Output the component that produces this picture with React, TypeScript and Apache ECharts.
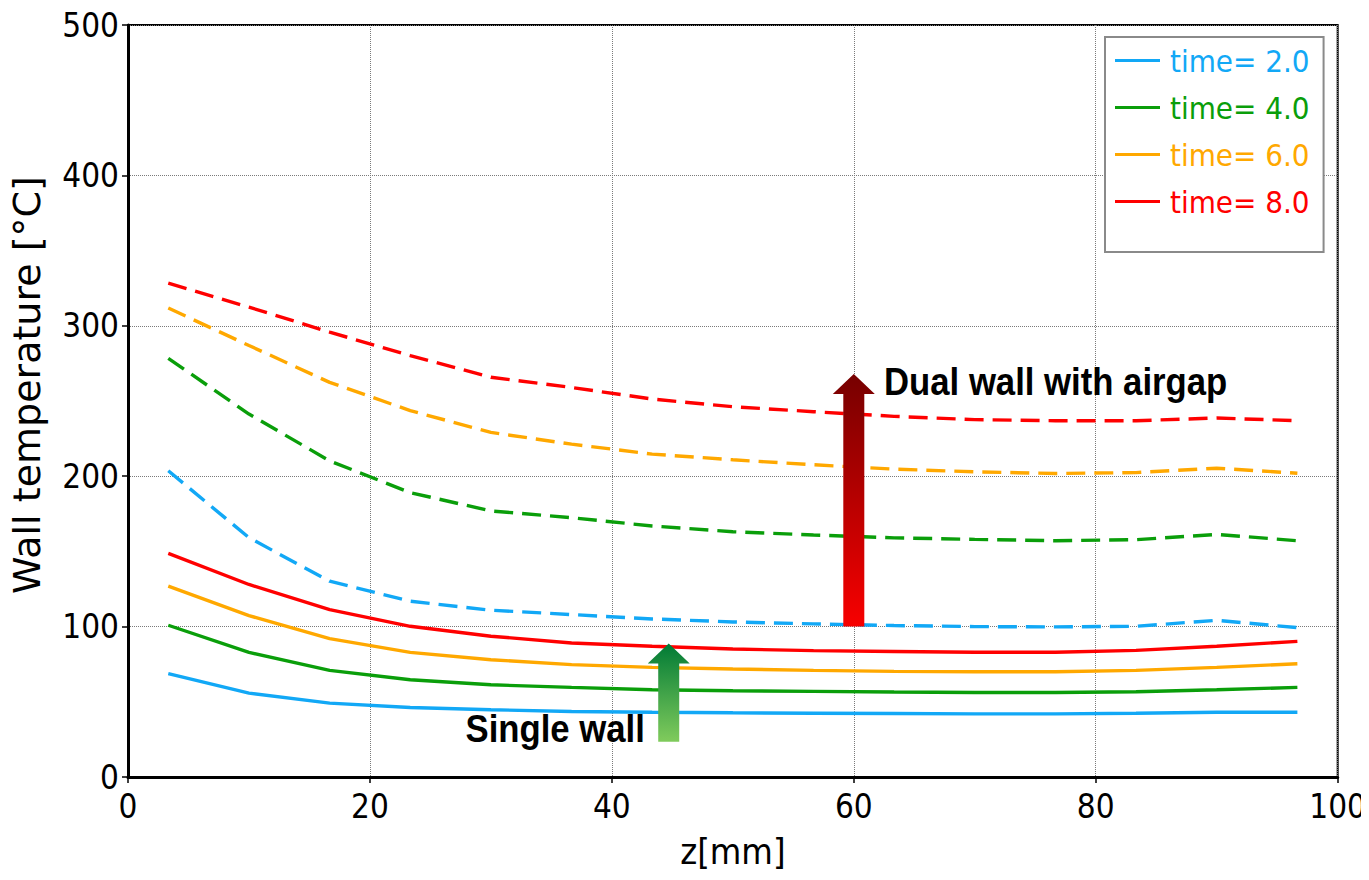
import React, { useEffect, useRef } from "react";
import * as echarts from "echarts";

// z positions [mm]
const zPositions = [3.33, 10, 16.67, 23.33, 30, 36.67, 43.33, 50, 56.67, 63.33, 70, 76.67, 83.33, 90, 96.67];

// Single wall (solid)
const single2 = [68.7, 55.8, 49.1, 46.2, 44.7, 43.6, 43.1, 42.7, 42.4, 42.2, 42, 42, 42.4, 43.1, 43.1];
const single4 = [100.9, 82.9, 70.9, 64.7, 61.3, 59.6, 58, 57.3, 56.9, 56.5, 56.2, 56.2, 56.7, 58, 59.6];
const single6 = [126.9, 107.3, 92, 82.9, 78, 74.7, 72.9, 71.8, 70.9, 70.2, 70, 70, 70.9, 72.9, 75.3];
const single8 = [148.7, 128, 111.3, 100.2, 93.6, 89.1, 86.9, 85.1, 84, 83.4, 82.9, 82.9, 84.2, 86.9, 90.2];

// Dual wall with airgap (dashed)
const dual2 = [203.6, 159.1, 130.2, 116.9, 110.9, 108, 105.1, 103.1, 101.8, 100.7, 100, 99.8, 100.2, 104.2, 99.3];
const dual4 = [278.4, 241.3, 210.2, 189.1, 176.9, 172.4, 166.9, 163.1, 160.9, 159, 158, 157.1, 157.8, 161.3, 157.1];
const dual6 = [311.8, 286.9, 262.4, 243.6, 229.1, 221.3, 214.7, 210.9, 207.6, 204.7, 202.9, 201.8, 202.4, 205.3, 202];
const dual8 = [328.4, 312.4, 295.8, 280.2, 265.8, 259, 251.3, 246.2, 242.9, 239.8, 237.6, 236.9, 236.9, 238.7, 236.9];

const legendNames = ["time= 2.0", "time= 4.0", "time= 6.0", "time= 8.0"];
const seriesColors = ["#12a8f6", "#0a9e0a", "#ffa800", "#ff0000"];

const xTicks = { min: 0, max: 100, interval: 20 };
const yTicks = { min: 0, max: 500, interval: 100 };

// Annotation arrows in data coordinates: [z, temperature]
const dualArrowFrom = [60, 100];
const dualArrowTo = [60, 268];
const singleArrowFrom = [44.7, 23.5];
const singleArrowTo = [44.7, 88.7];
const dualLabelAt = [62.5, 263];
const singleLabelAt = [27.9, 24];

const FONT = "'DejaVu Sans Condensed', 'DejaVu Sans', sans-serif";
const FONT_WIDE = "'DejaVu Sans', sans-serif";
const BOLD = "'Liberation Sans', Arial, sans-serif";

function pair(ys: number[]) {
  return zPositions.map((z, i) => [z, ys[i]]);
}

export default function App() {
  const ref = useRef<HTMLDivElement>(null);

  useEffect(() => {
    if (!ref.current) return;
    const chart = echarts.init(ref.current, null, { renderer: "svg" });

    const solid = [single2, single4, single6, single8];
    const dashed = [dual2, dual4, dual6, dual8];

    const series: any[] = [];
    solid.forEach((d, i) => {
      series.push({
        name: legendNames[i],
        type: "line",
        data: pair(d),
        symbol: "none",
        lineStyle: { color: seriesColors[i], width: 3.4 },
        itemStyle: { color: seriesColors[i] },
        z: 3,
      });
    });
    dashed.forEach((d, i) => {
      series.push({
        name: legendNames[i] + " (dual wall)",
        type: "line",
        data: pair(d),
        symbol: "none",
        lineStyle: { color: seriesColors[i], width: 3.4, type: [19, 9] },
        itemStyle: { color: seriesColors[i] },
        z: 3,
      });
    });

    chart.setOption({
      animation: false,
      backgroundColor: "#fff",
      grid: {
        left: 125,
        right: 31,
        top: 25,
        bottom: 103,
        show: true,
        borderColor: "#000",
        borderWidth: 2,
      },
      legend: {
        orient: "vertical",
        left: 1105,
        top: 37,
        padding: [8, 14, 35, 10],
        itemGap: 16,
        itemWidth: 45,
        itemHeight: 3,
        icon: "rect",
        borderColor: "#8a8a8a",
        borderWidth: 2,
        backgroundColor: "#fff",
        data: legendNames.map((n, i) => ({
          name: n,
          textStyle: { color: seriesColors[i] },
        })),
        textStyle: { fontFamily: FONT, fontSize: 31, lineHeight: 30, padding: [0, 0, 0, 5] },
        selectedMode: false,
      },
      xAxis: {
        type: "value",
        min: xTicks.min,
        max: xTicks.max,
        interval: xTicks.interval,
        name: "z[mm]",
        nameLocation: "middle",
        nameGap: 56,
        nameTextStyle: { fontFamily: FONT, fontSize: 36, color: "#000" },
        axisLine: { show: true, onZero: false, lineStyle: { color: "#000", width: 3 } },
        axisTick: { show: true, length: 6, lineStyle: { color: "#000", width: 1.5 } },
        axisLabel: { fontFamily: FONT, fontSize: 33, color: "#000", margin: 13 },
        splitLine: { show: true, lineStyle: { color: "#7a7a7a", width: 1, type: "dotted" } },
      },
      yAxis: {
        type: "value",
        min: yTicks.min,
        max: yTicks.max,
        interval: yTicks.interval,
        name: "Wall temperature [°C]",
        nameLocation: "middle",
        nameGap: 82,
        nameTextStyle: { fontFamily: FONT_WIDE, fontSize: 38, color: "#000", padding: [0, 0, 0, 32] },
        axisLine: { show: true, onZero: false, lineStyle: { color: "#000", width: 3 } },
        axisTick: { show: true, length: 6, lineStyle: { color: "#000", width: 1.5 } },
        axisLabel: { fontFamily: FONT, fontSize: 33, color: "#000", margin: 9 },
        splitLine: { show: true, lineStyle: { color: "#7a7a7a", width: 1, type: "dotted" } },
      },
      series,
    });

    const px = (p: number[]) => chart.convertToPixel({ gridIndex: 0 }, p) as number[];

    const arrow = (from: number[], to: number[], top: string, bottom: string) => {
      const a = px(from);
      const b = px(to);
      const cx = a[0];
      const shaft = 10.5;
      const head = 21;
      const headH = 20;
      const baseY = b[1] + headH;
      return {
        type: "polygon",
        z: 20,
        shape: {
          points: [
            [cx - shaft, a[1]],
            [cx + shaft, a[1]],
            [cx + shaft, baseY],
            [cx + head, baseY],
            [cx, b[1]],
            [cx - head, baseY],
            [cx - shaft, baseY],
          ],
        },
        style: {
          fill: new echarts.graphic.LinearGradient(0, 0, 0, 1, [
            { offset: 0, color: top },
            { offset: 1, color: bottom },
          ]),
          stroke: null,
        },
      };
    };

    const dl = px(dualLabelAt);
    const sl = px(singleLabelAt);

    chart.setOption({
      graphic: [
        arrow(dualArrowFrom, dualArrowTo, "#760000", "#f80000"),
        arrow(singleArrowFrom, singleArrowTo, "#007a35", "#80cb5c"),
        {
          type: "text",
          z: 21,
          x: dl[0],
          y: dl[1],
          scaleX: 0.89,
          style: {
            text: "Dual wall with airgap",
            font: "bold 39px " + BOLD,
            fill: "#000",
            textAlign: "left",
            textVerticalAlign: "middle",
          },
        },
        {
          type: "text",
          z: 21,
          x: sl[0],
          y: sl[1] - 12,
          scaleX: 0.89,
          style: {
            text: "Single wall",
            font: "bold 39px " + BOLD,
            fill: "#000",
            textAlign: "left",
            textVerticalAlign: "middle",
          },
        },
      ],
    });

    return () => chart.dispose();
  }, []);

  return <div ref={ref} style={{ width: 1369, height: 880, margin: -8 }} />;
}
